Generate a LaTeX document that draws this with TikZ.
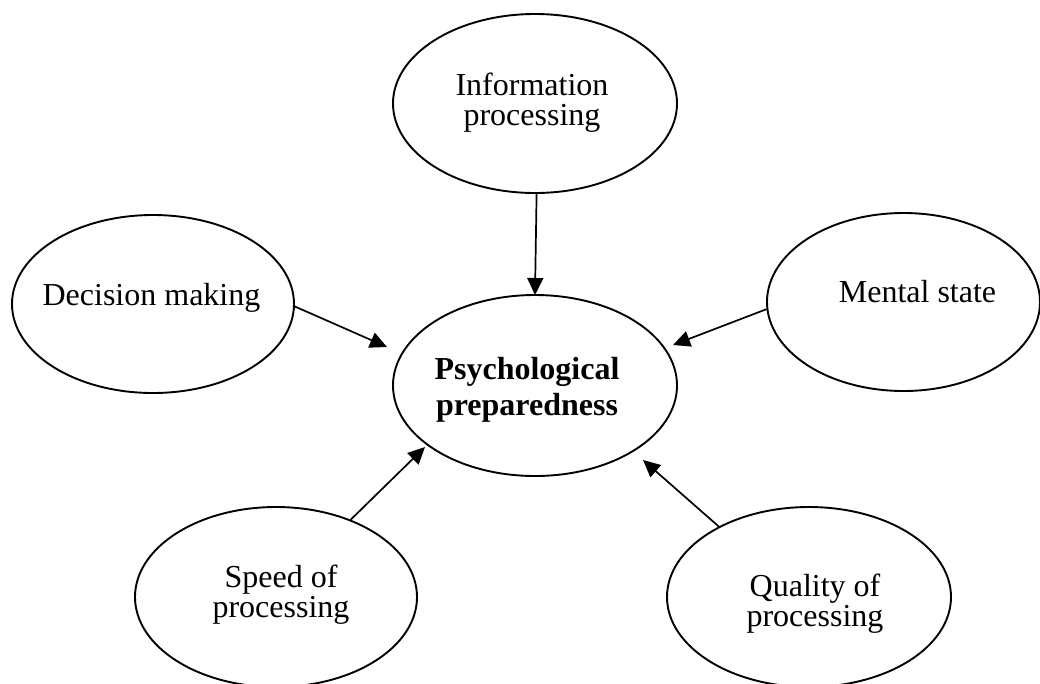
\documentclass[tikz,border=0pt]{standalone}
\usepackage{fontspec}
\setmainfont{Liberation Serif}
\usetikzlibrary{arrows.meta,shapes.geometric}

\tikzset{
  bubble/.style={ellipse, draw=black, line width=1.9pt, inner sep=0pt, fill=white},
  caption/.style={inner sep=0pt, align=center, font=\fontsize{32}{30}\selectfont},
  boldcaption/.style={inner sep=0pt, align=center, font=\fontsize{32}{36}\selectfont\bfseries},
  feed/.style={line width=1.7pt, -{Triangle[length=17pt,width=16pt]}}
}

\begin{document}
\begin{tikzpicture}[x=1pt,y=-1pt]
\useasboundingbox (0,0) rectangle (1040,683);

% outer factors and the central concept
\node[bubble, minimum width=284pt, minimum height=179pt] (info) at (535,103.5) {};
\node[bubble, minimum width=282pt, minimum height=178pt] (dec)  at (153,304) {};
\node[bubble, minimum width=273pt, minimum height=178pt] (men)  at (903.5,302) {};
\node[bubble, minimum width=284pt, minimum height=181pt] (psy)  at (535,385.5) {};
\node[bubble, minimum width=282pt, minimum height=180pt] (spd)  at (276,597) {};
\node[bubble, minimum width=284pt, minimum height=180pt] (qual) at (809,597) {};

% labels
\node[caption] (infoT) at (532,103) {Information\\processing};
\node[caption] (decT)  at (151.5,297.5) {Decision making};
\node[caption] (menT)  at (917.5,292) {Mental state};
\node[boldcaption] (psyT) at (527,389.5) {Psychological\\preparedness};
\node[caption] (spdT)  at (281,594.5) {Speed of\\processing};
\node[caption] (qualT) at (815,604) {Quality of\\processing};

% arrow tips stop short of the central ellipse
\coordinate (tInfo) at (535,295);
\coordinate (tDec)  at (387,347);
\coordinate (tMen)  at (673,345);
\coordinate (tSpd)  at (425,447);
\coordinate (tQual) at (643,460);

\draw[feed] (info.-89) -- (tInfo);
\draw[feed] (dec.-1)   -- (tDec);
\draw[feed] (men.183)  -- (tMen);
\draw[feed] (spd.46)   -- (tSpd);
\draw[feed] (qual.142) -- (tQual);
\end{tikzpicture}
\end{document}
